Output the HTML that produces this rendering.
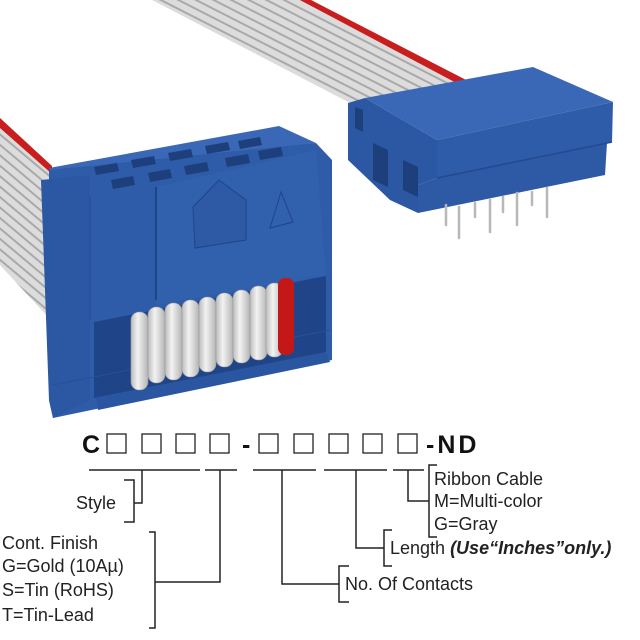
<!DOCTYPE html>
<html><head><meta charset="utf-8"><style>
html,body{margin:0;padding:0;background:#fff}
svg{display:block}
text{font-family:"Liberation Sans",Arial,sans-serif;font-size:18px;fill:#222}
</style></head><body>
<svg width="640" height="640" viewBox="0 0 640 640" xmlns="http://www.w3.org/2000/svg">
<defs>
<pattern id="rib" width="8" height="8" patternUnits="userSpaceOnUse" patternTransform="rotate(27)">
<rect width="8" height="8" fill="#dcdcdc"/><rect y="6" width="8" height="2" fill="#a9a9a9"/></pattern>
<pattern id="rib2" width="8" height="8" patternUnits="userSpaceOnUse" patternTransform="rotate(40)">
<rect width="8" height="8" fill="#dcdcdc"/><rect y="6" width="8" height="2" fill="#a9a9a9"/></pattern>
<linearGradient id="loop" x1="0" x2="1"><stop offset="0" stop-color="#bdbdbd"/><stop offset="0.4" stop-color="#f2f2f2"/><stop offset="1" stop-color="#b5b5b5"/></linearGradient>
</defs>
<!-- top ribbon -->
<polygon points="152,0,311,0,470,82,352,104" fill="url(#rib)"/>
<polygon points="300,0,311,0,470,82,462,86" fill="#c81e1e"/>
<!-- left ribbon -->
<polygon points="0,122,52,168,49,318,0,265" fill="url(#rib2)"/>
<polygon points="0,118,0,128,52,174,52,166" fill="#c81e1e"/>
<!-- left connector -->
<polygon points="49,168,279,126,316,143,53,177" fill="#3b68b6"/>
<polygon points="49,170,316,143,332,160,332,360,53,418,49,400" fill="#2f5ca9"/>
<polygon points="41,180,90,175,90,400,53,418,49,400" fill="#2c57a2"/>
<line x1="90" y1="197" x2="90" y2="320" stroke="#26509a" stroke-width="1.5"/>
<polygon points="156,187,316,150,326,275,156,305" fill="#3160ad"/>
<line x1="156" y1="187" x2="156" y2="300" stroke="#1f4588" stroke-width="2"/>
<g fill="#1d3f7c">
<polygon points="94,167,117,163,119,171,96,175"/><polygon points="131,160,154,156,156,164,133,168"/>
<polygon points="168,153,191,149,193,157,170,161"/><polygon points="205,146,228,142,230,150,207,154"/>
<polygon points="238,141,260,137,262,145,240,149"/>
<polygon points="111,180,133,176,135,185,113,189"/><polygon points="148,173,170,169,172,178,150,182"/>
<polygon points="184,166,207,162,209,171,186,175"/><polygon points="225,158,248,154,250,163,227,167"/>
<polygon points="258,151,281,147,283,156,260,160"/>
</g>
<polygon points="193,207,219,180,246,200,246,240,195,248" fill="#2d59a5" stroke="#1f4588" stroke-width="1"/>
<polygon points="281,192,270,228,293,222" fill="none" stroke="#1f4588" stroke-width="1"/>
<!-- window -->
<polygon points="94,322,326,276,326,352,94,398" fill="#1f4588"/>
<polygon points="96,398,326,352,330,362,98,410" fill="#2a55a0"/>
<line x1="53" y1="385" x2="330" y2="330" stroke="#26509a" stroke-width="1"/>
<g fill="url(#loop)" stroke="#9a9a9a" stroke-width="0.6">
<rect x="131" y="312" width="17" height="78" rx="8"/>
<rect x="148" y="307" width="17" height="76" rx="8"/>
<rect x="165" y="303" width="17" height="77" rx="8"/>
<rect x="182" y="300" width="17" height="77" rx="8"/>
<rect x="199" y="297" width="17" height="75" rx="8"/>
<rect x="216" y="293" width="17" height="74" rx="8"/>
<rect x="233" y="290" width="17" height="73" rx="8"/>
<rect x="250" y="286" width="17" height="74" rx="8"/>
<rect x="266" y="283" width="17" height="74" rx="8"/>
</g>
<rect x="278" y="278" width="16" height="77" rx="7" fill="#c41818"/>
<!-- right connector -->
<polygon points="348,103,365,98,437,140,437,178,418,185,418,213,390,200,348,160" fill="#2b57a3"/>
<polygon points="373,143,388,150,388,187,373,180" fill="#1d3f7c"/>
<polygon points="403,160,418,167,418,197,403,190" fill="#1d3f7c"/>
<polygon points="355,107,363,110,363,132,355,128" fill="#1d3f7c"/>
<polygon points="365,98,533,67,613,102,437,140" fill="#3b68b6"/>
<polygon points="437,140,613,102,612,142,437,178" fill="#2f5ca9"/>
<polygon points="418,185,437,178,607,143,605,175,418,213" fill="#2d59a5"/>
<line x1="437" y1="178" x2="612" y2="142" stroke="#23498f" stroke-width="1.5"/>
<g stroke="#b8b8b8" stroke-width="2.5" stroke-linecap="round">
<line x1="446" y1="205" x2="446" y2="225"/><line x1="459" y1="207" x2="459" y2="238"/>
<line x1="475" y1="203" x2="475" y2="217"/><line x1="490" y1="200" x2="490" y2="232"/>
<line x1="503" y1="197" x2="503" y2="212"/><line x1="517" y1="193" x2="517" y2="225"/>
<line x1="532" y1="192" x2="532" y2="205"/><line x1="547" y1="188" x2="547" y2="217"/>
</g>
<!-- part code -->
<text x="82" y="453" style="font-size:25px;font-weight:bold;fill:#111">C</text>
<g fill="none" stroke="#222" stroke-width="1.3">
<rect x="107" y="434" width="19" height="19"/><rect x="142" y="434" width="19" height="19"/>
<rect x="176" y="434" width="19" height="19"/><rect x="210" y="434" width="19" height="19"/>
<rect x="259" y="434" width="19" height="19"/><rect x="294" y="434" width="19" height="19"/>
<rect x="329" y="434" width="19" height="19"/><rect x="363" y="434" width="19" height="19"/>
<rect x="398" y="434" width="19" height="19"/>
</g>
<text x="242" y="453" style="font-size:25px;font-weight:bold;fill:#111">-</text>
<text x="426" y="453" style="font-size:25px;font-weight:bold;fill:#111;letter-spacing:3px">-ND</text>
<g fill="none" stroke="#222" stroke-width="1.5">
<path d="M89 470H200M205 470H237M253 470H316M324 470H387M393 470H424"/>
<path d="M142 470V503H134M124 480H134V522H124"/>
<path d="M220 470V582H155M149 532H155V628H149"/>
<path d="M282 470V584H339M349 566H339V602H349"/>
<path d="M356 470V548H384M392 530H384V566H392"/>
<path d="M408 470V501H429M437 465H429V537H437"/>
</g>
<text x="76" y="509">Style</text>
<text x="2" y="549">Cont. Finish</text>
<text x="2" y="572">G=Gold (10Aµ)</text>
<text x="2" y="596">S=Tin (RoHS)</text>
<text x="2" y="621">T=Tin-Lead</text>
<text x="345" y="590">No. Of Contacts</text>
<text x="390" y="554">Length <tspan style="font-weight:bold;font-style:italic">(Use“Inches”only.)</tspan></text>
<text x="434" y="485">Ribbon Cable</text>
<text x="434" y="507">M=Multi-color</text>
<text x="434" y="530">G=Gray</text>
</svg>
</body></html>
